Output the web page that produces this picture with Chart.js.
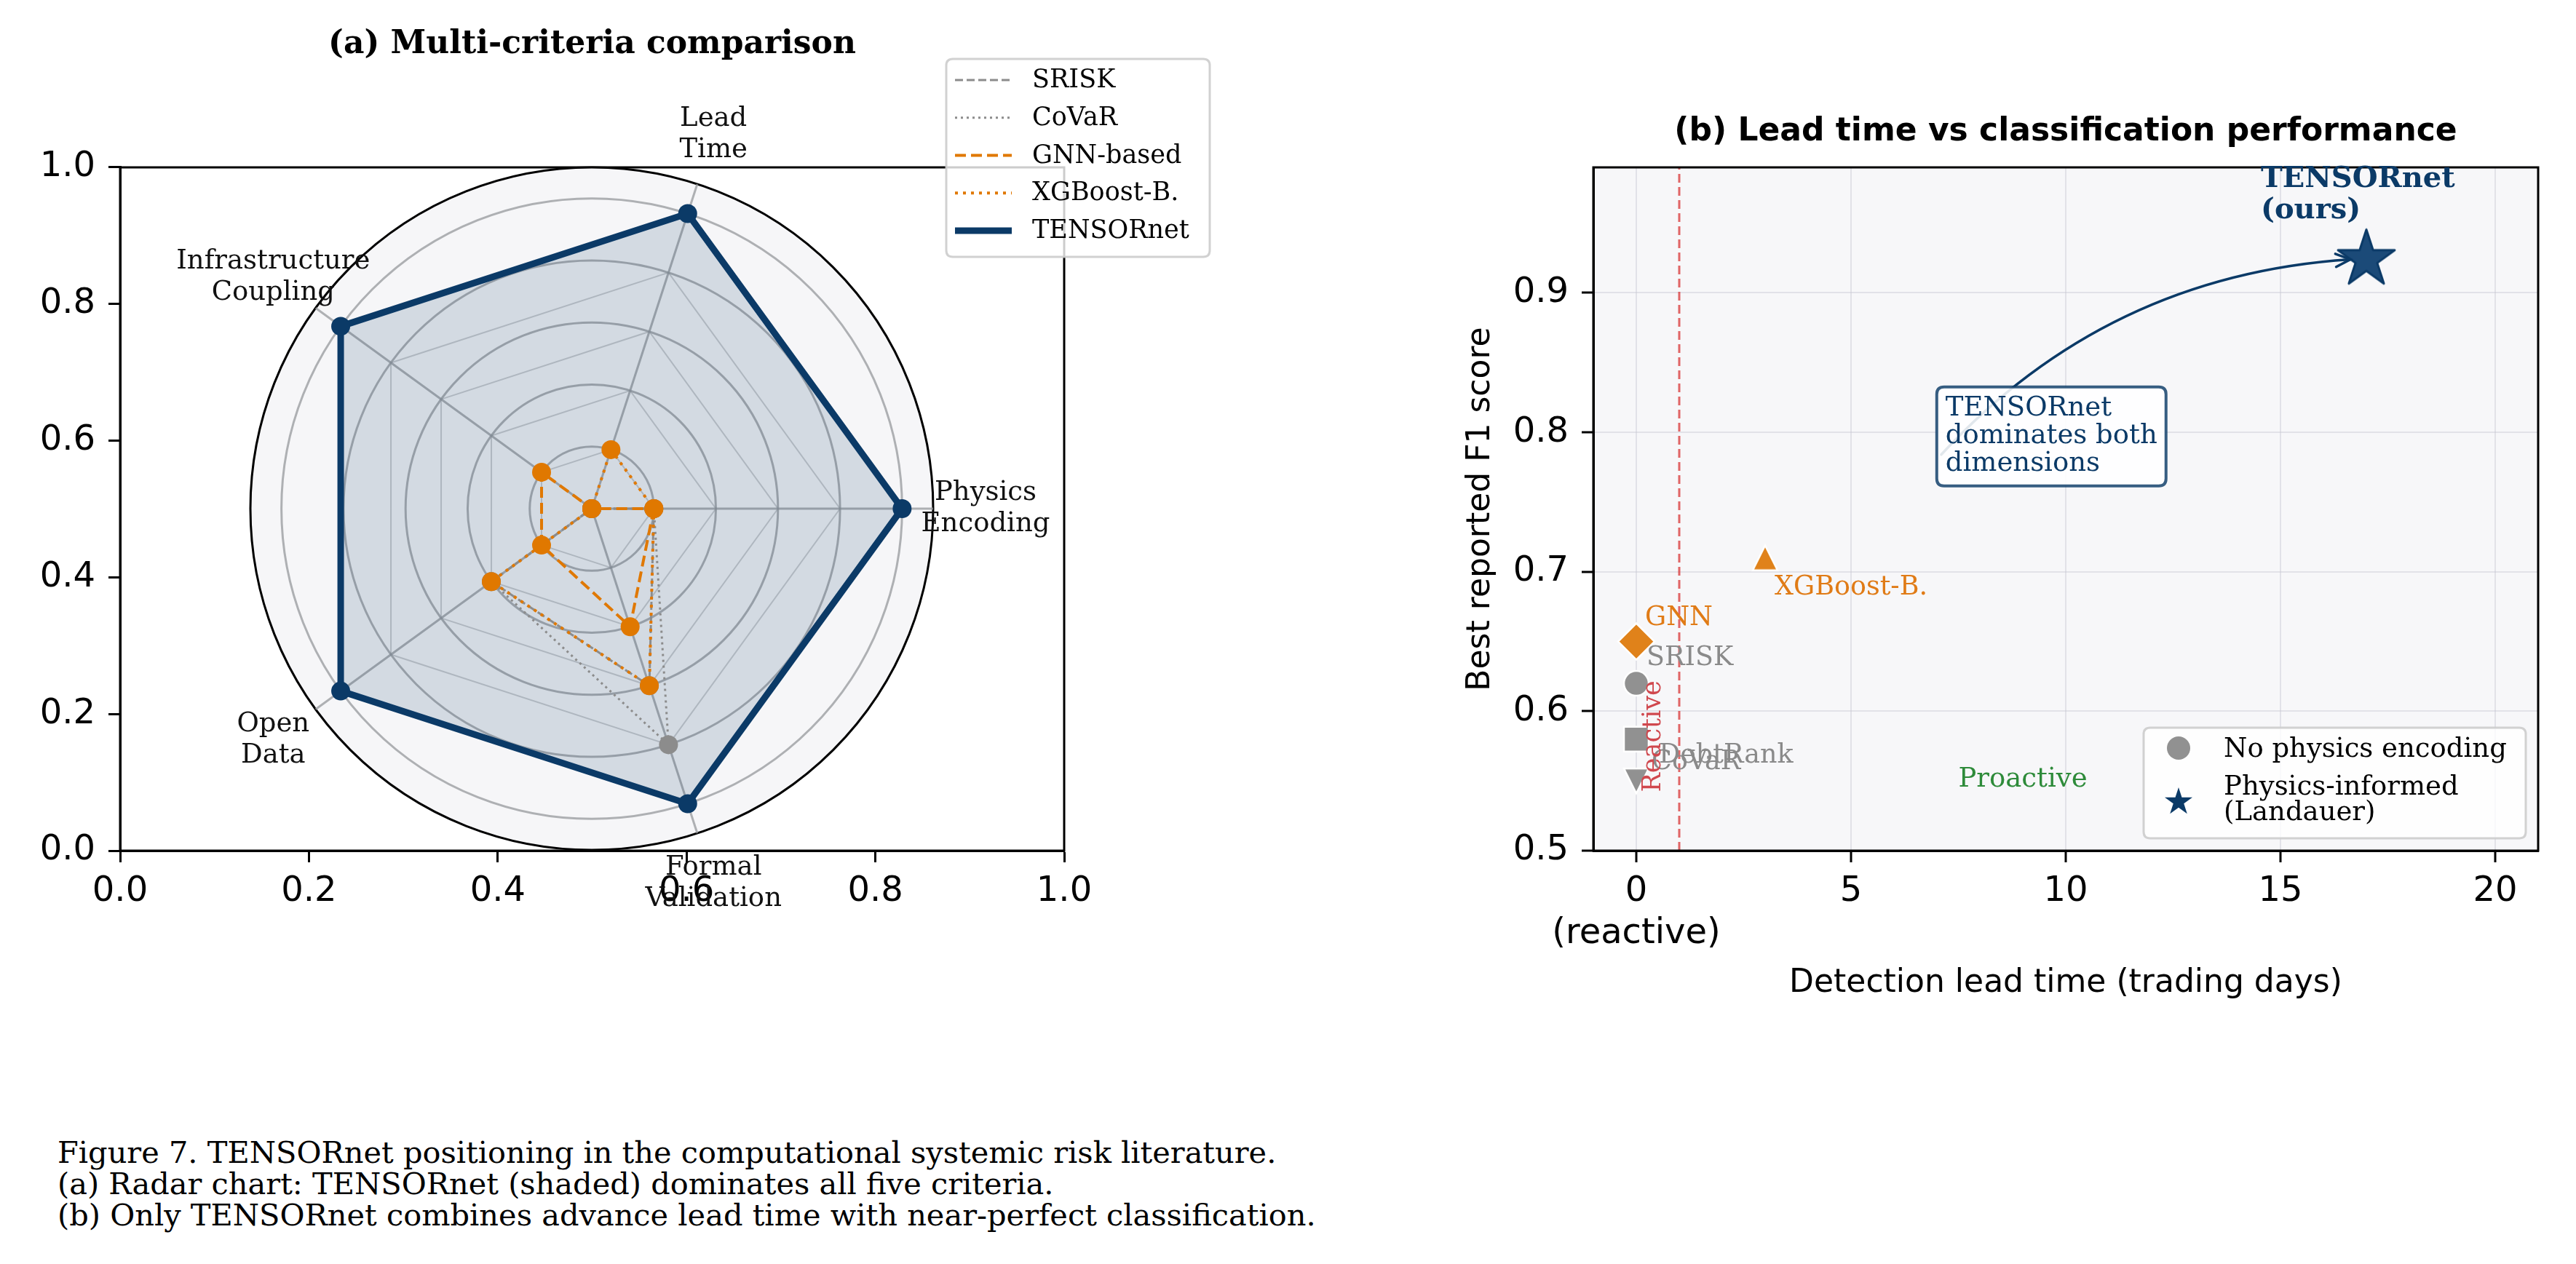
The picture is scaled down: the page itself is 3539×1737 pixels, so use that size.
<!DOCTYPE html>
<html>
<head>
<meta charset="utf-8">
<title>TENSORnet positioning</title>
<script src="https://cdn.jsdelivr.net/npm/chart.js@4.4.1/dist/chart.umd.min.js"></script>
<style>
html, body { margin:0; padding:0; background:#ffffff; }
body { position:relative; width:3539px; height:1737px; overflow:hidden; }
canvas { position:absolute; }
#cartA { left:0; top:0; }
#radarA { left:114px; top:0; }
#scatB { left:2004px; top:0; }
#caption { position:absolute; left:79px; top:1562px; font-family:"DejaVu Serif"; font-size:41.5px; line-height:43px; color:#000; white-space:pre; }
</style>
</head>
<body>
<canvas id="cartA" width="1720" height="1400"></canvas>
<canvas id="radarA" width="1399" height="1399"></canvas>
<canvas id="scatB" width="1535" height="1480"></canvas>
<div id="caption">Figure 7. TENSORnet positioning in the computational systemic risk literature.
(a) Radar chart: TENSORnet (shaded) dominates all five criteria.
(b) Only TENSORnet combines advance lead time with near-perfect classification.</div>
<script>
// ---------------- DATA ----------------
const radarCategories = ['Physics\nEncoding', 'Lead\nTime', 'Infrastructure\nCoupling', 'Open\nData', 'Formal\nValidation'];
const radarSeriesNames = ['SRISK', 'CoVaR', 'GNN-based', 'XGBoost-B.', 'TENSORnet'];
const sriskScores     = [0.2, 0.0, 0.0, 0.4, 0.6];
const covarScores     = [0.2, 0.0, 0.0, 0.4, 0.8];
const gnnScores       = [0.2, 0.0, 0.2, 0.2, 0.4];
const xgbScores       = [0.2, 0.2, 0.0, 0.4, 0.6];
const tensornetScores = [1.0, 1.0, 1.0, 1.0, 1.0];
const radarRings = [0.2, 0.4, 0.6, 0.8, 1.0];
const radarMax = 1.1;
const panelATicks = [0.0, 0.2, 0.4, 0.6, 0.8, 1.0];

const methods      = ['SRISK', 'CoVaR', 'DebtRank', 'GNN', 'XGBoost-B.', 'TENSORnet'];
const leadTimeDays = [0, 0, 0, 0, 3, 17];
const bestF1       = [0.62, 0.55, 0.58, 0.65, 0.71, 0.924];
const leadTimeTicks = [0, 5, 10, 15, 20];
const f1Ticks = [0.5, 0.6, 0.7, 0.8, 0.9];
const leadRange = [-1, 21];
const f1Range = [0.5, 0.99];
const reactiveBoundaryDays = 1;

// ---------------- STYLE ----------------
Chart.defaults.font.family = '"DejaVu Sans", sans-serif';
Chart.defaults.color = '#000';
Chart.defaults.animation = false;

const NAVY = '#0b3a67', ORANGE = '#e07800', GREY = '#8c8c8c';
const GREY_M = '#919191', ORANGE_M = '#e0821a';
const SERIF = '"DejaVu Serif", serif';

const radarStyles = [
  {color: GREY,   dash: [11, 5], width: 3, order: 5},
  {color: GREY,   dash: [3, 5],  width: 3, order: 4},
  {color: ORANGE, dash: [15, 7], width: 4, order: 3},
  {color: ORANGE, dash: [4, 7],  width: 4, order: 2},
  {color: NAVY,   dash: [],      width: 9, order: 6, fill: 'rgba(11,58,103,0.15)'}
];
const radarValues = [sriskScores, covarScores, gnnScores, xgbScores, tensornetScores];
// Chart.js walks the axes clockwise; the reference goes counter-clockwise from east.
const clockwise = [0, 4, 3, 2, 1];
const toChartOrder = arr => clockwise.map(i => arr[i]);

function roundRectPath(ctx, x, y, w, h, r) {
  ctx.beginPath();
  ctx.moveTo(x + r, y);
  ctx.lineTo(x + w - r, y); ctx.quadraticCurveTo(x + w, y, x + w, y + r);
  ctx.lineTo(x + w, y + h - r); ctx.quadraticCurveTo(x + w, y + h, x + w - r, y + h);
  ctx.lineTo(x + r, y + h); ctx.quadraticCurveTo(x, y + h, x, y + h - r);
  ctx.lineTo(x, y + r); ctx.quadraticCurveTo(x, y, x + r, y);
  ctx.closePath();
}
function starPath(g, cx, cy, R) {
  const r = R * 0.382;
  g.beginPath();
  for (let k = 0; k < 10; k++) {
    const a = -Math.PI / 2 + k * Math.PI / 5;
    const rr = k % 2 ? r : R;
    const x = cx + rr * Math.cos(a), y = cy + rr * Math.sin(a);
    k ? g.lineTo(x, y) : g.moveTo(x, y);
  }
  g.closePath();
}
function starImg(R, fill, stroke, lw) {
  const size = Math.ceil(2 * R + 2 * lw + 6);
  const c = document.createElement('canvas'); c.width = c.height = size;
  const g = c.getContext('2d');
  starPath(g, size / 2, size / 2, R);
  g.fillStyle = fill; g.fill();
  if (lw) { g.lineWidth = lw; g.strokeStyle = stroke; g.lineJoin = 'round'; g.stroke(); }
  return c;
}
function triImg(h, up, fill) {
  const size = Math.ceil(2 * h + 10);
  const c = document.createElement('canvas'); c.width = c.height = size;
  const g = c.getContext('2d'); const cx = size / 2, cy = size / 2;
  g.beginPath();
  if (up) { g.moveTo(cx, cy - h); g.lineTo(cx + h, cy + h); g.lineTo(cx - h, cy + h); }
  else { g.moveTo(cx, cy + h); g.lineTo(cx + h, cy - h); g.lineTo(cx - h, cy - h); }
  g.closePath();
  g.fillStyle = fill; g.fill();
  g.lineWidth = 2.5; g.strokeStyle = '#ffffff'; g.lineJoin = 'miter'; g.stroke();
  return c;
}

// ---------------- PANEL (a): cartesian frame behind the radar ----------------
const frameBox = {
  id: 'frameBox',
  afterDatasetsDraw(chart) {
    const {ctx, chartArea: a} = chart;
    ctx.save(); ctx.strokeStyle = '#000'; ctx.lineWidth = 3;
    ctx.strokeRect(a.left, a.top, a.right - a.left, a.bottom - a.top);
    ctx.restore();
  }
};
const legendA = {
  id: 'legendA',
  afterDraw(chart) {
    const ctx = chart.ctx;
    const bx = 1300, by = 81, bw = 362, bh = 272;
    ctx.save();
    roundRectPath(ctx, bx, by, bw, bh, 9);
    ctx.fillStyle = 'rgba(255,255,255,0.8)'; ctx.fill();
    ctx.strokeStyle = 'rgba(204,204,204,0.9)'; ctx.lineWidth = 3; ctx.stroke();
    ctx.font = '35px ' + SERIF; ctx.textBaseline = 'middle'; ctx.textAlign = 'left'; ctx.fillStyle = '#000';
    radarSeriesNames.forEach((name, k) => {
      const st = radarStyles[k];
      const y = by + 29 + k * 51.75;
      ctx.beginPath(); ctx.setLineDash(st.dash); ctx.strokeStyle = st.color; ctx.lineWidth = st.width;
      ctx.lineCap = 'butt';
      ctx.moveTo(bx + 12, y); ctx.lineTo(bx + 90, y); ctx.stroke();
      ctx.setLineDash([]);
      ctx.fillText(name, bx + 118, y + 1);
    });
    ctx.restore();
  }
};
const ticksFrom = arr => (s) => { s.ticks = arr.map(v => ({value: v})); };

new Chart(document.getElementById('cartA'), {
  type: 'scatter',
  data: {datasets: []},
  options: {
    responsive: false, animation: false, devicePixelRatio: 1,
    layout: {padding: {left: 0, top: 25.6, right: 258, bottom: 131}},
    plugins: {
      legend: {display: false}, tooltip: {enabled: false},
      title: {display: true, text: '(a) Multi-criteria comparison', fullSize: false, color: '#000',
              font: {family: SERIF, weight: 'bold', size: 44, lineHeight: 1.2}, padding: {top: 10, bottom: 141.6}}
    },
    scales: {
      x: {type: 'linear', min: 0, max: 1, afterBuildTicks: ticksFrom(panelATicks),
          ticks: {font: {size: 48}, color: '#000', padding: 12, maxRotation: 0, callback: v => v.toFixed(1)},
          grid: {drawOnChartArea: false, drawTicks: true, tickLength: 16, tickWidth: 3, tickColor: '#000', color: '#000'},
          border: {display: true, color: '#000', width: 3},
          afterFit(s) { s.height = 100; }},
      y: {type: 'linear', min: 0, max: 1, afterBuildTicks: ticksFrom(panelATicks),
          ticks: {font: {size: 48}, color: '#000', padding: 18, callback: v => v.toFixed(1)},
          grid: {drawOnChartArea: false, drawTicks: true, tickLength: 16, tickWidth: 3, tickColor: '#000', color: '#000'},
          border: {display: true, color: '#000', width: 3},
          afterFit(s) { s.width = 165; }}
    }
  },
  plugins: [frameBox, legendA]
});

// ---------------- PANEL (a): radar ----------------
const pentagonGrid = {
  id: 'pentagonGrid',
  beforeDatasetsDraw(chart) {
    const s = chart.scales.r, ctx = chart.ctx, n = chart.data.labels.length;
    ctx.save(); ctx.strokeStyle = 'rgba(150,152,158,0.45)'; ctx.lineWidth = 2;
    radarRings.forEach(v => {
      ctx.beginPath();
      for (let i = 0; i < n; i++) {
        const p = s.getPointPositionForValue(i, v);
        i ? ctx.lineTo(p.x, p.y) : ctx.moveTo(p.x, p.y);
      }
      ctx.closePath(); ctx.stroke();
    });
    ctx.restore();
  }
};
const radarLabels = {
  id: 'radarLabels',
  afterDraw(chart) {
    const s = chart.scales.r, ctx = chart.ctx;
    ctx.save(); ctx.font = '37px ' + SERIF; ctx.fillStyle = '#111';
    ctx.textAlign = 'center'; ctx.textBaseline = 'middle';
    chart.data.labels.forEach((lab, i) => {
      const p = s.getPointPosition(i, s.drawingArea + 72);
      const lines = lab.split('\n'), lh = 43;
      lines.forEach((ln, k) => ctx.fillText(ln, p.x, p.y + (k - (lines.length - 1) / 2) * lh));
    });
    ctx.restore();
  }
};

new Chart(document.getElementById('radarA'), {
  type: 'radar',
  data: {
    labels: toChartOrder(radarCategories),
    datasets: radarSeriesNames.map((name, k) => {
      const st = radarStyles[k];
      return {
        label: name, data: toChartOrder(radarValues[k]),
        borderColor: st.color, borderDash: st.dash, borderWidth: st.width,
        backgroundColor: st.fill || 'rgba(0,0,0,0)', fill: !!st.fill,
        pointRadius: 13, pointHoverRadius: 13, pointBackgroundColor: st.color,
        pointBorderColor: st.color, pointBorderWidth: 0, tension: 0, order: st.order
      };
    })
  },
  options: {
    responsive: false, animation: false, devicePixelRatio: 1,
    layout: {padding: 230},
    plugins: {legend: {display: false}, tooltip: {enabled: false}},
    scales: {
      r: {
        min: 0, max: radarMax, startAngle: 90, backgroundColor: '#f6f6f8',
        afterBuildTicks: (s) => { s.ticks = [0].concat(radarRings, [radarMax]).map(v => ({value: v})); },
        ticks: {display: false},
        pointLabels: {display: false},
        grid: {circular: true,
               color: ctx => (ctx.tick && ctx.tick.value > 1.05) ? '#000' : 'rgba(150,152,156,0.75)',
               lineWidth: 3},
        angleLines: {display: true, color: 'rgba(150,152,156,0.75)', lineWidth: 3}
      }
    }
  },
  plugins: [pentagonGrid, radarLabels]
});

// ---------------- PANEL (b): scatter ----------------
const markerStyle = {
  'SRISK':      {style: 'circle',  r: 17, color: GREY_M},
  'CoVaR':      {style: triImg(17, false, GREY_M), r: 20},
  'DebtRank':   {style: 'rect',    r: 24, color: GREY_M},
  'GNN':        {style: 'rectRot', r: 25, color: ORANGE_M},
  'XGBoost-B.': {style: triImg(17, true, ORANGE_M), r: 20},
  'TENSORnet':  {style: starImg(41, '#1b4a78', NAVY, 3), r: 20}
};
const pointLabelStyle = {
  'SRISK':      {color: '#8a8a8a', dx: 14, dy: -25},
  'CoVaR':      {color: '#8a8a8a', dx: 21, dy: -16},
  'DebtRank':   {color: '#8a8a8a', dx: 31, dy: 32},
  'GNN':        {color: '#e07b16', dx: 12, dy: -23},
  'XGBoost-B.': {color: '#e07b16', dx: 13, dy: 50}
};
const oursLabel = {lines: ['TENSORnet', '(ours)'], dx: -145, baselines: [-99, -56]};
const boxNote = {lines: ['TENSORnet', 'dominates both', 'dimensions'], x: 7.2, y: 0.797, lineGap: 38, pad: 12};
const arrowStart = [7.1, 0.784];
const arrowRad = 0.2;
const zoneText = [
  {text: 'Proactive', x: 9.0, y: 0.551, color: '#2e8b3a', rotate: false, size: 37},
  {text: 'Reactive', x: 0.4, y: 0.582, color: '#d0484e', rotate: true, size: 35}
];

const plotBg = {
  id: 'plotBg',
  beforeDraw(chart) {
    const {ctx, chartArea: a} = chart;
    ctx.save(); ctx.fillStyle = '#f7f7f9';
    ctx.fillRect(a.left, a.top, a.right - a.left, a.bottom - a.top);
    ctx.restore();
  }
};
const annotationsB = {
  id: 'annotationsB',
  afterDatasetsDraw(chart) {
    const ctx = chart.ctx, xs = chart.scales.x, ys = chart.scales.y;
    ctx.save();
    // point labels
    ctx.font = '36.5px ' + SERIF; ctx.textAlign = 'left'; ctx.textBaseline = 'alphabetic';
    methods.forEach((m, i) => {
      const st = pointLabelStyle[m]; if (!st) return;
      const px = xs.getPixelForValue(leadTimeDays[i]), py = ys.getPixelForValue(bestF1[i]);
      ctx.fillStyle = st.color; ctx.fillText(m, px + st.dx, py + st.dy);
    });
    // zone texts
    zoneText.forEach(z => {
      const px = xs.getPixelForValue(z.x), py = ys.getPixelForValue(z.y);
      ctx.save(); ctx.translate(px, py); if (z.rotate) ctx.rotate(-Math.PI / 2);
      ctx.fillStyle = z.color; ctx.font = z.size + 'px ' + SERIF; ctx.textAlign = 'center'; ctx.textBaseline = 'middle';
      ctx.fillText(z.text, 0, 0); ctx.restore();
    });
    // TENSORnet (ours)
    const ti = methods.indexOf('TENSORnet');
    const sx = xs.getPixelForValue(leadTimeDays[ti]), sy = ys.getPixelForValue(bestF1[ti]);
    ctx.font = 'bold 40px ' + SERIF; ctx.fillStyle = NAVY; ctx.textAlign = 'left'; ctx.textBaseline = 'alphabetic';
    oursLabel.lines.forEach((ln, k) => ctx.fillText(ln, sx + oursLabel.dx, sy + oursLabel.baselines[k]));
    // curved arrow
    const S = {x: xs.getPixelForValue(arrowStart[0]), y: ys.getPixelForValue(arrowStart[1])};
    const E = {x: sx - 22, y: sy};
    const M = {x: (S.x + E.x) / 2, y: (S.y + E.y) / 2};
    const dx = E.x - S.x, dy = E.y - S.y;
    const C = {x: M.x + arrowRad * dy, y: M.y - arrowRad * dx};
    ctx.strokeStyle = NAVY; ctx.lineWidth = 3.5; ctx.lineCap = 'round';
    ctx.beginPath(); ctx.moveTo(S.x, S.y); ctx.quadraticCurveTo(C.x, C.y, E.x, E.y); ctx.stroke();
    const ang = Math.atan2(E.y - C.y, E.x - C.x), hl = 22, hw = 0.42;
    ctx.beginPath();
    ctx.moveTo(E.x - hl * Math.cos(ang - hw), E.y - hl * Math.sin(ang - hw));
    ctx.lineTo(E.x, E.y);
    ctx.lineTo(E.x - hl * Math.cos(ang + hw), E.y - hl * Math.sin(ang + hw));
    ctx.stroke();
    // note box
    ctx.font = '37px ' + SERIF;
    const tx = xs.getPixelForValue(boxNote.x), tyc = ys.getPixelForValue(boxNote.y);
    const tw = Math.max(...boxNote.lines.map(l => ctx.measureText(l).width));
    const half = boxNote.lineGap * (boxNote.lines.length - 1) / 2 + 30;
    roundRectPath(ctx, tx - boxNote.pad, tyc - half, tw + 2 * boxNote.pad, 2 * half, 10);
    ctx.fillStyle = 'rgba(255,255,255,0.88)'; ctx.fill();
    ctx.strokeStyle = 'rgba(11,58,103,0.82)'; ctx.lineWidth = 4; ctx.stroke();
    ctx.fillStyle = NAVY; ctx.textBaseline = 'middle'; ctx.textAlign = 'left';
    boxNote.lines.forEach((ln, k) => ctx.fillText(ln, tx, tyc + (k - (boxNote.lines.length - 1) / 2) * boxNote.lineGap));
    ctx.restore();
  }
};
const legendB = {
  id: 'legendB',
  afterDraw(chart) {
    const ctx = chart.ctx, a = chart.chartArea;
    const bw = 525, bh = 152, bx = a.right - 17 - bw, by = a.bottom - 17 - bh;
    ctx.save();
    roundRectPath(ctx, bx, by, bw, bh, 9);
    ctx.fillStyle = 'rgba(255,255,255,0.8)'; ctx.fill();
    ctx.strokeStyle = 'rgba(204,204,204,0.9)'; ctx.lineWidth = 3; ctx.stroke();
    ctx.fillStyle = GREY_M; ctx.beginPath(); ctx.arc(bx + 48, by + 28, 16, 0, Math.PI * 2); ctx.fill();
    starPath(ctx, bx + 48, by + 102, 20); ctx.fillStyle = NAVY; ctx.fill();
    ctx.fillStyle = '#000'; ctx.font = '37px ' + SERIF; ctx.textAlign = 'left'; ctx.textBaseline = 'middle';
    ctx.fillText('No physics encoding', bx + 110, by + 30);
    ctx.fillText('Physics-informed', bx + 110, by + 82);
    ctx.fillText('(Landauer)', bx + 110, by + 117);
    ctx.restore();
  }
};

new Chart(document.getElementById('scatB'), {
  type: 'scatter',
  data: {
    datasets: methods.map((m, i) => {
      const ms = markerStyle[m];
      return {
        label: m, data: [{x: leadTimeDays[i], y: bestF1[i]}],
        pointStyle: ms.style, pointRadius: ms.r, pointHoverRadius: ms.r,
        pointBackgroundColor: ms.color || NAVY, pointBorderColor: '#ffffff', pointBorderWidth: 2.5,
        order: 1
      };
    }).concat([{
      type: 'line', label: 'reactive boundary',
      data: [{x: reactiveBoundaryDays, y: f1Range[0]}, {x: reactiveBoundaryDays, y: f1Range[1]}],
      borderColor: 'rgba(214,39,40,0.7)', borderWidth: 3, borderDash: [12, 6], pointRadius: 0, order: 5
    }])
  },
  options: {
    responsive: false, animation: false, devicePixelRatio: 1,
    layout: {padding: {left: 0, top: 145.6, right: 52, bottom: 97.6}},
    plugins: {
      legend: {display: false}, tooltip: {enabled: false},
      title: {display: true, text: '(b) Lead time vs classification performance', fullSize: false, color: '#000',
              font: {family: '"DejaVu Sans"', weight: 'bold', size: 44, lineHeight: 1.2}, padding: {top: 10, bottom: 21.6}}
    },
    scales: {
      x: {type: 'linear', min: leadRange[0], max: leadRange[1], afterBuildTicks: ticksFrom(leadTimeTicks),
          ticks: {font: {size: 48}, color: '#000', padding: 12, maxRotation: 0, autoSkip: false,
                  callback: v => v === 0 ? ['0', '(reactive)'] : String(v)},
          grid: {color: 'rgba(200,200,210,0.45)', lineWidth: 2, tickLength: 16, tickWidth: 3, tickColor: '#000'},
          border: {display: true, color: '#000', width: 3},
          title: {display: true, text: 'Detection lead time (trading days)', font: {size: 44}, color: '#000', padding: {top: 4, bottom: 4}},
          afterFit(s) { s.height = 213.4; }},
      y: {type: 'linear', min: f1Range[0], max: f1Range[1], afterBuildTicks: ticksFrom(f1Ticks),
          ticks: {font: {size: 48}, color: '#000', padding: 18, callback: v => v.toFixed(1)},
          grid: {color: 'rgba(200,200,210,0.45)', lineWidth: 2, tickLength: 16, tickWidth: 3, tickColor: '#000'},
          border: {display: true, color: '#000', width: 3},
          title: {display: true, text: 'Best reported F1 score', font: {size: 44}, color: '#000', padding: {top: 4, bottom: 4}},
          afterFit(s) { s.width = 185; }}
    }
  },
  plugins: [plotBg, frameBox, annotationsB, legendB]
});
</script>
</body>
</html>
